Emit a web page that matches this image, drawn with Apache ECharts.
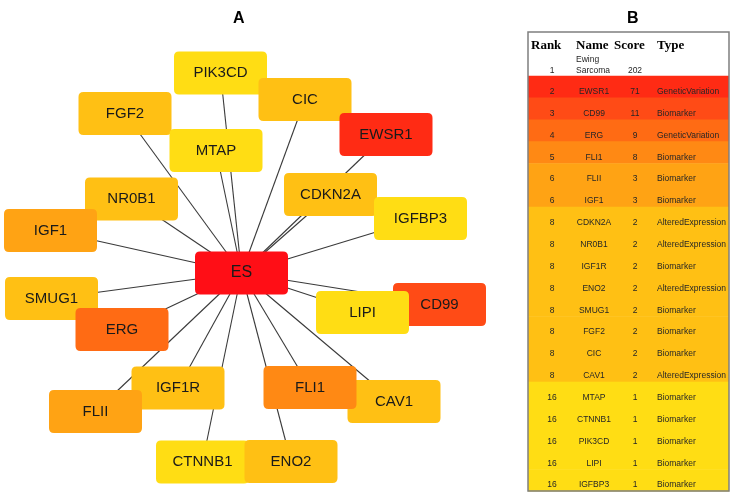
<!DOCTYPE html>
<html>
<head>
<meta charset="utf-8">
<title>ES network</title>
<script src="https://cdn.jsdelivr.net/npm/echarts@6/dist/echarts.min.js"></script>
<style>
  html, body { margin: 0; padding: 0; background: #fff; }
  #chart { width: 734px; height: 498px; }
</style>
</head>
<body>
<div id="chart"></div>
<script>
// ---- table B (rank order) ----
const genes = ['EWSR1', 'CD99', 'ERG', 'FLI1', 'FLII', 'IGF1', 'CDKN2A', 'NR0B1', 'IGF1R', 'ENO2',
  'SMUG1', 'FGF2', 'CIC', 'CAV1', 'MTAP', 'CTNNB1', 'PIK3CD', 'LIPI', 'IGFBP3']
const ranks = [2, 3, 4, 5, 6, 6, 8, 8, 8, 8, 8, 8, 8, 8, 16, 16, 16, 16, 16]
const scores = [71, 11, 9, 8, 3, 3, 2, 2, 2, 2, 2, 2, 2, 2, 1, 1, 1, 1, 1]
const types = ['GeneticVariation', 'Biomarker', 'GeneticVariation', 'Biomarker', 'Biomarker', 'Biomarker',
  'AlteredExpression', 'AlteredExpression', 'Biomarker', 'AlteredExpression', 'Biomarker', 'Biomarker',
  'Biomarker', 'AlteredExpression', 'Biomarker', 'Biomarker', 'Biomarker', 'Biomarker', 'Biomarker']
const headers = ['Rank', 'Name', 'Score', 'Type']
const hubName = 'ES'
const hubLabel = ['Ewing', 'Sarcoma']
const hubRank = 1
const hubScore = 202

// ---- network A (draw order, later ones on top) ----
const netNodes = ['CD99', 'LIPI', 'CAV1', 'FLI1', 'CTNNB1', 'ENO2', 'SMUG1', 'ERG', 'IGF1R', 'FLII',
  'NR0B1', 'IGF1', 'FGF2', 'MTAP', 'PIK3CD', 'CIC', 'CDKN2A', 'IGFBP3', 'EWSR1', 'ES']
const netX = [439.5, 362.5, 394, 310, 202.5, 291, 51.5, 122, 178, 95.5,
  131.5, 50.5, 125, 216, 220.5, 305, 330.5, 420.5, 386, 241.5]
const netY = [304.5, 312.5, 401.5, 387.5, 462, 461.5, 298.5, 329.5, 388, 411.5,
  199, 230.5, 113.5, 150.5, 73, 99.5, 194.5, 218.5, 134.5, 273]

// colour by score
const scoreColors = {
  202: '#ff0e16', 71: '#ff2b14', 11: '#ff4b16', 9: '#ff6b14',
  8: '#ff8914', 3: '#ffa314', 2: '#ffc014', 1: '#ffdd14'
}
function scoreOf(name) {
  return name === hubName ? hubScore : scores[genes.indexOf(name)]
}

const chart = echarts.init(document.getElementById('chart'))

// rounded box, drawn at 93 x 43
const boxPath = 'path://M5,0 L88,0 Q93,0 93,5 L93,38 Q93,43 88,43 L5,43 Q0,43 0,38 L0,5 Q0,0 5,0 Z'

const nodeData = netNodes.map((n, i) => ({
  name: n,
  value: [netX[i], netY[i]],
  itemStyle: { color: scoreColors[scoreOf(n)] },
  label: n === hubName ? { fontSize: 16 } : undefined
}))
const links = genes.map(g => ({ source: hubName, target: g }))

// table rows: header, hub row, then genes
const rowNames = ['header', 'hub'].concat(genes)
const colAnchor = { rank: 24, name: 66, score: 107, type: 129 } // x offsets inside table
const headAnchor = [3, 48, 86, 129]

function txt(x, y, s, align, font, fill) {
  return {
    type: 'text',
    style: {
      x: x, y: y, text: s, align: align, verticalAlign: 'middle',
      font: font, fill: fill || '#262626'
    }
  }
}

function renderRow(params, api) {
  const i = api.value(0)
  const cs = params.coordSys
  const h = api.size([0, 1])[1]
  const top = api.coord([0, i])[1] - h / 2
  const cx = v => api.coord([v, i])[0]
  const dataFont = '8.5px "Liberation Sans", Arial, sans-serif'
  const children = []
  let fill = '#ffffff'
  if (i >= 2) fill = scoreColors[scores[i - 2]]
  children.push({
    type: 'rect',
    shape: { x: cs.x, y: top, width: cs.width, height: h + 0.6 },
    style: { fill: fill }
  })
  if (i === 0) {
    headers.forEach((t, k) => {
      children.push(txt(cx(headAnchor[k]), top + 14, t, 'left',
        'bold 13px "Liberation Serif", "Times New Roman", serif', '#000'))
    })
  } else if (i === 1) {
    children.push(txt(cx(colAnchor.rank), top + 17, String(hubRank), 'center', dataFont))
    children.push(txt(cx(headAnchor[1]), top + 6, hubLabel[0], 'left', dataFont))
    children.push(txt(cx(headAnchor[1]), top + 17, hubLabel[1], 'left', dataFont))
    children.push(txt(cx(colAnchor.score), top + 17, String(hubScore), 'center', dataFont))
  } else {
    const k = i - 2
    children.push(txt(cx(colAnchor.rank), top + 16, String(ranks[k]), 'center', dataFont))
    children.push(txt(cx(colAnchor.name), top + 16, genes[k], 'center', dataFont))
    children.push(txt(cx(colAnchor.score), top + 16, String(scores[k]), 'center', dataFont))
    children.push(txt(cx(colAnchor.type), top + 16, types[k], 'left', dataFont))
  }
  return { type: 'group', children: children }
}

const option = {
  animation: false,
  backgroundColor: '#fff',
  title: [
    { text: 'A', left: 228, top: 6, textStyle: { fontSize: 16, fontWeight: 'bold', color: '#000', fontFamily: 'Liberation Sans' } },
    { text: 'B', left: 622, top: 6, textStyle: { fontSize: 16, fontWeight: 'bold', color: '#000', fontFamily: 'Liberation Sans' } }
  ],
  grid: [
    { left: 0, top: 0, width: 734, height: 498 },
    { left: 528, top: 32, width: 201, height: 459 }
  ],
  xAxis: [
    { type: 'value', min: 0, max: 734, show: false, gridIndex: 0 },
    { type: 'value', min: 0, max: 201, show: false, gridIndex: 1 }
  ],
  yAxis: [
    { type: 'value', min: 0, max: 498, inverse: true, show: false, gridIndex: 0 },
    { type: 'category', data: rowNames, inverse: true, show: false, gridIndex: 1 }
  ],
  series: [
    {
      type: 'graph',
      coordinateSystem: 'cartesian2d',
      xAxisIndex: 0,
      yAxisIndex: 0,
      layout: 'none',
      symbol: boxPath,
      symbolSize: [93, 43],
      data: nodeData,
      links: links,
      edgeSymbol: ['none', 'none'],
      lineStyle: { color: '#3a3a3a', width: 1.1, opacity: 1, curveness: 0 },
      label: {
        show: true,
        position: 'inside',
        fontSize: 15,
        color: '#1a1a1a',
        fontFamily: 'Liberation Sans'
      },
      emphasis: { disabled: true },
      silent: true
    },
    {
      type: 'custom',
      xAxisIndex: 1,
      yAxisIndex: 1,
      renderItem: renderRow,
      data: rowNames.map((r, i) => [i]),
      silent: true
    },
    {
      // table outline
      type: 'custom',
      xAxisIndex: 1,
      yAxisIndex: 1,
      z: 10,
      renderItem: function(params) {
        const cs = params.coordSys
        return {
          type: 'rect',
          shape: { x: cs.x, y: cs.y, width: cs.width, height: cs.height },
          style: { fill: 'none', stroke: '#7f7f7f', lineWidth: 1.5 }
        }
      },
      data: [[0]],
      silent: true
    }
  ]
}
chart.setOption(option)
</script>
</body>
</html>
